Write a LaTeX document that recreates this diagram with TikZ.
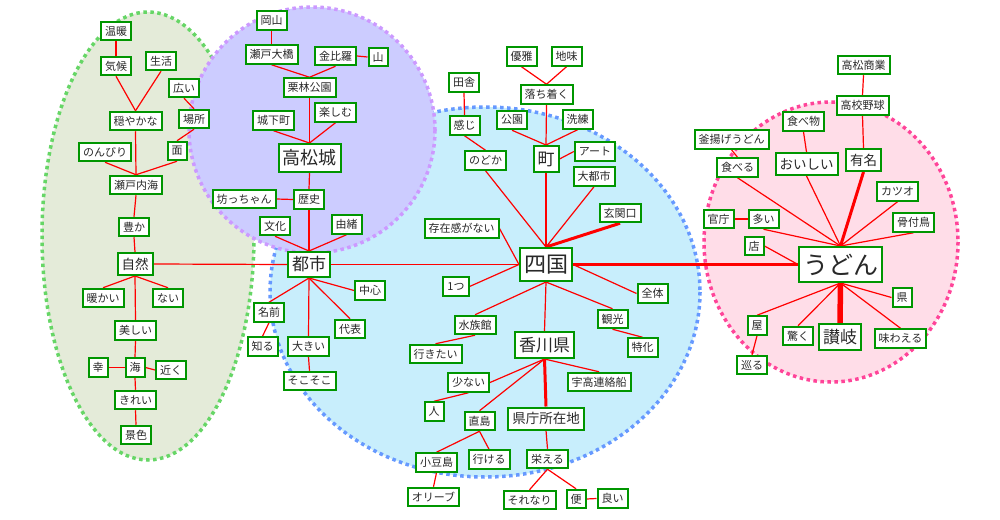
\documentclass[tikz,border=0pt]{standalone}
\usepackage{fontspec}
\newfontfamily\jp{Noto Sans CJK JP}
\definecolor{ngreen}{RGB}{0,150,0}
\definecolor{txt}{RGB}{40,40,40}
\definecolor{gfill}{RGB}{228,235,217}
\definecolor{gdot}{RGB}{102,214,102}
\definecolor{pfill}{RGB}{204,204,255}
\definecolor{pdot}{RGB}{204,153,255}
\definecolor{bfill}{RGB}{200,238,252}
\definecolor{bdot}{RGB}{102,153,255}
\definecolor{kfill}{RGB}{255,221,232}
\definecolor{kdot}{RGB}{255,68,153}
\pgfdeclarelayer{back}
\pgfdeclarelayer{edges}
\pgfsetlayers{back,edges,main}
\tikzset{
  w/.style={draw=ngreen, line width=2pt, fill=white, text=txt, inner xsep=4pt, inner ysep=0pt, minimum height=18.5pt, font=\jp\fontsize{11}{13}\selectfont},
  wm/.style={w, minimum height=22pt, font=\jp\fontsize{13.5}{15}\selectfont},
  wl/.style={w, minimum height=26pt, font=\jp\fontsize{17}{19}\selectfont},
  wcastle/.style={w, minimum height=28pt, font=\jp\fontsize{18}{20}\selectfont},
  wxl/.style={w, minimum height=33pt, font=\jp\fontsize{22}{24}\selectfont},
  wudon/.style={w, minimum height=35pt, font=\jp\fontsize{25}{27}\selectfont},
  e/.style={draw=red, line width=1.2pt},
  et/.style={draw=red, line width=3pt},
  ex/.style={draw=red, line width=5.5pt},
  region/.style={line width=3.5pt, dash pattern=on 3.5pt off 3.5pt},
}
\begin{document}
\begin{tikzpicture}[x=1pt,y=-1pt]
\useasboundingbox (0,0) rectangle (1000,519);
\begin{pgfonlayer}{back}
\fill[white] (0,0) rectangle (1000,519);
\path[region, fill=gfill, draw=gdot] (148,236) ellipse [x radius=106, y radius=224];
\path[region, fill=bfill, draw=bdot] (485,292) ellipse [x radius=215, y radius=185];
\path[region, fill=pfill, draw=pdot] (312,130) circle [radius=123];
\path[region, fill=kfill, draw=kdot] (831,242) ellipse [x radius=127, y radius=140];
\end{pgfonlayer}
% green
\node[w] (wandan) at (116,31) {温暖};
\node[w] (kikou) at (116,66) {気候};
\node[w] (seikatsu) at (161,61) {生活};
\node[w] (hiroi) at (184,88) {広い};
\node[w] (odayaka) at (135.5,121) {穏やかな};
\node[w] (basho) at (194,119) {場所};
\node[w] (nonbiri) at (105,152) {のんびり};
\node[w] (men) at (177,151) {面};
\node[w] (setonaikai) at (136,185) {瀬戸内海};
\node[w] (yutaka) at (134,227) {豊か};
\node[wm] (shizen) at (135,264) {自然};
\node[w] (atatakai) at (103,298) {暖かい};
\node[w] (nai) at (168,298) {ない};
\node[w] (utsukushii) at (135.5,330.5) {美しい};
\node[w] (sachi) at (98,367.5) {幸};
\node[w] (umi) at (135,367.5) {海};
\node[w] (chikaku) at (171,370) {近く};
\node[w] (kirei) at (135.5,400) {きれい};
\node[w] (keshiki) at (136,435) {景色};
% purple
\node[w] (okayama) at (271.5,20.5) {岡山};
\node[w] (setoohashi) at (271.5,54.5) {瀬戸大橋};
\node[w] (konpira) at (335.5,56) {金比羅};
\node[w] (yama) at (378,57) {山};
\node[w] (ritsurin) at (309.5,87.5) {栗林公園};
\node[w] (tanoshimu) at (335.5,112.5) {楽しむ};
\node[w] (jokamachi) at (273.5,120.5) {城下町};
\node[wcastle] (takamatsujo) at (309.5,158) {高松城};
\node[w] (botchan) at (244,199) {坊っちゃん};
\node[w] (rekishi) at (309,199.5) {歴史};
\node[w] (bunka) at (275,226) {文化};
\node[w] (yuisho) at (346.5,224.5) {由緒};
\node[wl, minimum height=25pt] (toshi) at (309,264.5) {都市};
\node[w] (chushin) at (370,290.5) {中心};
\node[w] (namae) at (269,312.5) {名前};
\node[w] (daihyo) at (350,329) {代表};
\node[w] (shiru) at (262.5,346.5) {知る};
\node[w] (ookii) at (308.5,346.5) {大きい};
\node[w] (sokosoko) at (309.5,381) {そこそこ};
% blue
\node[w] (yuga) at (521.5,56.5) {優雅};
\node[w] (jimi) at (566.5,56.5) {地味};
\node[w] (inaka) at (464,82.5) {田舎};
\node[w] (ochitsuku) at (546.5,94.5) {落ち着く};
\node[w] (kanji) at (464.5,125.5) {感じ};
\node[w] (koen) at (512,120) {公園};
\node[w] (senren) at (577.5,119.5) {洗練};
\node[w] (nodoka) at (485.5,160.5) {のどか};
\node[wl] (machi) at (546,159) {町};
\node[w] (ato) at (595,151.5) {アート};
\node[w] (daitoshi) at (594,176.5) {大都市};
\node[w] (genkan) at (620,213) {玄関口};
\node[w] (sonzai) at (461.5,228.5) {存在感がない};
\node[wxl] (shikoku) at (546,264.5) {四国};
\node[w] (hitotsu) at (456,286.5) {1つ};
\node[w] (zentai) at (652.5,293.5) {全体};
\node[w] (suizokukan) at (475,325) {水族館};
\node[w] (kanko) at (612.5,319) {観光};
\node[wl] (kagawa) at (544.5,345) {香川県};
\node[w] (ikitai) at (435.5,354) {行きたい};
\node[w] (tokka) at (642.5,347.5) {特化};
\node[w] (sukunai) at (468.5,382.5) {少ない};
\node[w] (uko) at (599,382) {宇高連絡船};
\node[w] (hito) at (434,411.5) {人};
\node[w] (naoshima) at (479.5,421) {直島};
\node[wm] (kencho) at (546,418.5) {県庁所在地};
\node[w] (shodoshima) at (436.5,462.5) {小豆島};
\node[w] (ikeru) at (489,459.5) {行ける};
\node[w] (sakaeru) at (547.5,459) {栄える};
\node[w] (olive) at (433.5,497) {オリーブ};
\node[w] (sorenari) at (529.5,500) {それなり};
\node[w] (ben) at (576,499) {便};
\node[w] (yoi) at (612.5,498.5) {良い};
% pink
\node[w] (takasho) at (863.5,65) {高松商業};
\node[w] (koko) at (862.5,105.5) {高校野球};
\node[w] (tabemono) at (803.5,121.5) {食べ物};
\node[w] (kamaage) at (731.5,139.5) {釜揚げうどん};
\node[w] (taberu) at (737.5,167.5) {食べる};
\node[wm] (oishii) at (806.5,164) {おいしい};
\node[wm] (yumei) at (863.5,160) {有名};
\node[w] (katsuo) at (897.5,191.5) {カツオ};
\node[w] (kancho) at (718.5,219) {官庁};
\node[w] (ooi) at (763.5,219) {多い};
\node[w] (honetsuki) at (913.5,222.5) {骨付鳥};
\node[w] (mise) at (754,246) {店};
\node[wudon] (udon) at (840.5,264.5) {うどん};
\node[w] (ken) at (902,297.5) {県};
\node[w] (ya) at (757,325.5) {屋};
\node[w] (odoroku) at (798,336) {驚く};
\node[wl] (sanuki) at (840,337) {讃岐};
\node[w] (ajiwaeru) at (900.5,338.5) {味わえる};
\node[w] (meguru) at (752,365) {巡る};
\begin{pgfonlayer}{edges}
% green
\draw[e] (wandan.south) -- (kikou.north);
\draw[e] (kikou.south) -- (odayaka.north);
\draw[e] (seikatsu.south) -- (odayaka.north);
\draw[e] (hiroi.south) -- (basho.north);
\draw[e] (basho.south) -- (men.north);
\draw[e] (odayaka.south) -- (setonaikai.north);
\draw[e] (nonbiri.south) -- (setonaikai.north);
\draw[e] (men.south) -- (setonaikai.north);
\draw[e] (setonaikai.south) -- (yutaka.north);
\draw[e] (yutaka.south) -- (shizen.north);
\draw[e] (shizen.south) -- (atatakai.north);
\draw[e] (shizen.south) -- (nai.north);
\draw[e] (shizen.south) -- (utsukushii.north);
\draw[e] (utsukushii.south) -- (umi.north);
\draw[e] (sachi.east) -- (umi.west);
\draw[e] (umi.east) -- (chikaku.west);
\draw[e] (umi.south) -- (kirei.north);
\draw[e] (kirei.south) -- (keshiki.north);
\draw[e] (shizen.east) -- (toshi.west);
% purple
\draw[e] (okayama.south) -- (setoohashi.north);
\draw[e] (setoohashi.south) -- (ritsurin.north);
\draw[e] (konpira.south) -- (ritsurin.north);
\draw[e] (konpira.east) -- (yama.west);
\draw[e] (ritsurin.south) -- (takamatsujo.north);
\draw[e] (jokamachi.south) -- (takamatsujo.north);
\draw[e] (tanoshimu.south) -- (takamatsujo.north);
\draw[e] (takamatsujo.south) -- (rekishi.north);
\draw[e] (botchan.east) -- (rekishi.west);
\draw[e] (rekishi.south) -- (toshi.north);
\draw[e] (bunka.south) -- (toshi.north);
\draw[e] (yuisho.south) -- (toshi.north);
\draw[e] (toshi.south) -- (namae.north);
\draw[e] (toshi.south) -- (chushin.west);
\draw[e] (toshi.south) -- (daihyo.north);
\draw[e] (toshi.south) -- (ookii.north);
\draw[e] (namae.south) -- (shiru.north);
\draw[e] (ookii.south) -- (sokosoko.north);
\draw[e] (toshi.east) -- (shikoku.west);
% blue
\draw[e] (yuga.south) -- (ochitsuku.north);
\draw[e] (jimi.south) -- (ochitsuku.north);
\draw[e] (inaka.south) -- (kanji.north);
\draw[e] (kanji.south) -- (nodoka.north);
\draw[e] (ochitsuku.south) -- (machi.north);
\draw[e] (koen.south) -- (machi.north);
\draw[e] (senren.south) -- (machi.north);
\draw[e] (machi.east) -- (ato.west);
\draw[e] (machi.south) -- (shikoku.north);
\draw[e] (nodoka.south) -- (shikoku.north);
\draw[e] (daitoshi.south) -- (shikoku.north);
\draw[et] (genkan.south) -- (shikoku.north);
\draw[e] (sonzai.east) -- (shikoku.west);
\draw[e] (hitotsu.east) -- (shikoku.west);
\draw[e] (shikoku.east) -- (zentai.west);
\draw[e] (shikoku.south) -- (suizokukan.north);
\draw[e] (shikoku.south) -- (kagawa.north);
\draw[e] (shikoku.south) -- (kanko.north);
\draw[e] (suizokukan.south) -- (ikitai.north);
\draw[e] (kanko.south) -- (tokka.north);
\draw[e] (kagawa.south) -- (sukunai.east);
\draw[e] (kagawa.south) -- (uko.north);
\draw[e] (kagawa.south) -- (naoshima.north);
\draw[et] (kagawa.south) -- (kencho.north);
\draw[e] (sukunai.south) -- (hito.north);
\draw[e] (naoshima.south) -- (shodoshima.north);
\draw[e] (naoshima.south) -- (ikeru.north);
\draw[e] (kencho.south) -- (sakaeru.north);
\draw[e] (shodoshima.south) -- (olive.north);
\draw[e] (sakaeru.south) -- (sorenari.north);
\draw[e] (sakaeru.south) -- (ben.north);
\draw[e] (ben.east) -- (yoi.west);
\draw[et] (shikoku.east) -- (udon.west);
% pink
\draw[e] (takasho.south) -- (koko.north);
\draw[e] (koko.south) -- (yumei.north);
\draw[e] (tabemono.south) -- (oishii.north);
\draw[e] (kamaage.south) -- (taberu.north);
\draw[e] (taberu.south) -- (udon.north);
\draw[e] (oishii.south) -- (udon.north);
\draw[et] (yumei.south) -- (udon.north);
\draw[e] (katsuo.south) -- (udon.north);
\draw[e] (honetsuki.south) -- (udon.north);
\draw[e] (kancho.east) -- (ooi.west);
\draw[e] (ooi.south) -- (udon.north);
\draw[e] (mise.east) -- (udon.west);
\draw[e] (udon.south) -- (ya.north);
\draw[e] (udon.south) -- (odoroku.north);
\draw[ex] (udon.south) -- (sanuki.north);
\draw[e] (udon.south) -- (ken.west);
\draw[e] (udon.south) -- (ajiwaeru.north);
\draw[e] (ya.south) -- (meguru.north);
\end{pgfonlayer}
\end{tikzpicture}
\end{document}
